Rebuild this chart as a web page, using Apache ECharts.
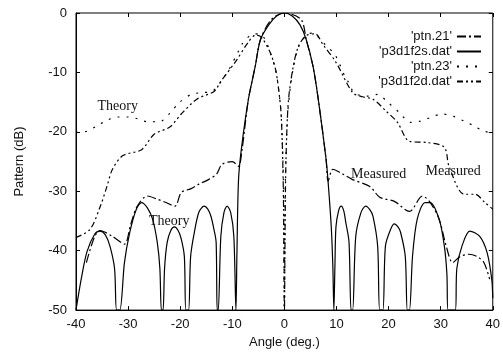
<!DOCTYPE html>
<html>
<head>
<meta charset="utf-8">
<script src="https://cdn.jsdelivr.net/npm/echarts@6/dist/echarts.min.js"></script>
<style>
  html, body { margin: 0; padding: 0; background: #fff; }
  #chart { width: 503px; height: 354px; }
</style>
</head>
<body>
<div id="chart"></div>
<script>
// 'ptn.21' - sum pattern with filled nulls (dash-dot)
var ptn21 = [
  [-38, -42], [-36.5, -37.8], [-35.4, -36.6], [-33, -37.6], [-30.7, -38.9], [-29.5, -35.6],
  [-28.3, -32.6], [-26.3, -30.8], [-24.5, -31.3], [-23, -31.8], [-21, -32.5], [-19.8, -30.2],
  [-18, -29.6], [-16.4, -28.8], [-14.5, -28], [-13, -27.1], [-12, -25.5], [-10, -25],
  [-8.8, -25.8], [-8.2, -23.5], [-6.9, -14.5], [-5.6, -9], [-4.6, -4.5], [-2.5, -1.1],
  [0, 0], [3.2, -1.1], [4.2, -4.5], [5.5, -9], [6.5, -14.5], [8, -24.6], [8.4, -28.3],
  [9.3, -26.3], [11, -27], [13, -28], [16.4, -29.2], [18.3, -31], [21.1, -31.7], [24, -33.4],
  [26.5, -30.8], [28, -31.9], [29.7, -34.7], [31, -39], [32.3, -42], [33.7, -41], [35.4, -40.6],
  [37, -41], [38.3, -42], [39.4, -44.8]
];

// 'p3d1f2s.dat' - sum pattern (solid)
var p3d1f2s = [
  [-40, -50], [-39, -44.8], [-37.9, -40.2], [-36.4, -37.2], [-35.4, -36.7], [-34.4, -37.3],
  [-33.5, -39.2], [-32.6, -43], [-32.2, -50],
  [-31.6, -50], [-30.7, -42], [-29.7, -37], [-28.4, -33], [-27.4, -31.9], [-26.3, -32.8],
  [-25.3, -34.7], [-24.4, -38.6], [-23.9, -43], [-23.6, -50],
  [-23.3, -50], [-23, -43], [-22.5, -38.6], [-21.8, -36.6], [-21.1, -36], [-20.4, -36.6],
  [-19.8, -38], [-19.2, -41], [-18.9, -50],
  [-18.4, -50], [-18, -41], [-17.3, -37], [-16.4, -33.5], [-15.4, -32.5], [-14.7, -33],
  [-14.1, -34.2], [-13.5, -36.5], [-13.1, -38.6], [-12.9, -50],
  [-12.7, -50], [-12.2, -37.6], [-11.6, -33.6], [-11, -32.5], [-10.3, -33.6], [-9.7, -37.6],
  [-9.3, -50],
  [-9.1, -40], [-8.8, -28], [-8.2, -22.5], [-6.9, -14.5], [-5.6, -9], [-4.6, -4.5], [-3, -2],
  [-1.5, -0.5], [0, 0], [1.5, -0.5], [3, -2], [4.2, -4.5], [5.5, -9], [6.5, -14.5], [8, -24.6],
  [8.4, -28.5], [9, -36], [9.3, -42.6], [9.5, -50],
  [9.7, -42.6], [9.9, -36], [10.4, -33.3], [10.9, -32.5], [11.4, -33.3], [11.8, -35.3],
  [12.4, -38.5], [12.8, -50],
  [13.1, -50], [13.7, -37.6], [14.7, -33.6], [15.6, -32.5], [16.4, -33.1], [17, -34.2],
  [17.9, -39.2], [18.3, -50],
  [18.9, -50], [19.4, -39.2], [20.4, -36.4], [21.1, -35.5], [21.8, -36], [22.3, -36.9],
  [23.2, -40.9], [23.6, -50],
  [24, -50], [24.6, -40.9], [25.5, -34.7], [27, -31.9], [28, -31.9], [29.7, -34.7],
  [30.7, -39.2], [31.2, -44], [31.4, -50],
  [32.8, -50], [33.1, -43], [34.1, -39.2], [35.6, -36.7], [37.5, -37.6], [38.9, -40.3],
  [39.8, -44.8], [40, -48]
];

// 'ptn.23' - difference pattern (dotted)
var ptn23 = [
  [-40, -20.1], [-37.9, -19.9], [-36, -19], [-33.9, -18], [-32, -17.5], [-30, -17.5],
  [-28.2, -17.8], [-26.3, -18.3], [-24, -18.3], [-22, -16.9], [-20.2, -15.1], [-17.9, -13.7],
  [-15.8, -13.4], [-13.9, -13.2], [-11, -10], [-8.8, -6.4], [-8.2, -5.3], [-6.2, -3.6],
  [-5, -3.5], [-3.8, -4.3], [-2.7, -6.7], [-1.7, -9.5], [-1.1, -12.9], [-0.6, -17.4],
  [-0.2, -28], [0, -50], [0.2, -28], [0.6, -17.4], [1.1, -12.9], [1.7, -9.3], [2.7, -5.8],
  [4.2, -3.7], [5.3, -3.4], [6.2, -3.8], [8, -5.5], [9.7, -7], [11.6, -10.6], [12.2, -11.5],
  [13.5, -13.5], [16, -14], [17.9, -13.7], [19.8, -15], [22, -16.7], [24.2, -18.4],
  [26.1, -18.2], [28, -17.6], [30.3, -17], [32.5, -17.4], [34.5, -18.2], [36.4, -19],
  [38.3, -19.9], [40, -20.1]
];

// 'p3d1f2d.dat' - difference pattern (dash-dot-dot)
var p3d1f2d = [
  [-40, -37.8], [-37.3, -36.4], [-35.4, -32.7], [-34.1, -29.3], [-33, -26.3], [-31, -24],
  [-27.4, -23], [-25, -20.4], [-22, -19.2], [-19.8, -17], [-16.8, -14.5], [-13.5, -13.2],
  [-12.2, -11.5], [-9.3, -8.1], [-7, -5], [-5.5, -3.7], [-4.4, -4.1], [-2.7, -6.7],
  [-1.7, -9.5], [-1.1, -12.9], [-0.6, -17.4], [-0.2, -30], [0, -50], [0.2, -30],
  [0.4, -21.8], [0.8, -14.5], [1.7, -9], [2.7, -5.6], [4.2, -3.8], [5.9, -3.5], [7.4, -5.3],
  [9.9, -8.3], [13.1, -13.4], [15, -14.1], [17, -14.5], [19.5, -16.5], [21.7, -18.4],
  [24, -21.6], [27.4, -21.8], [30.7, -22.6], [31.6, -25.8], [34.5, -30.5], [36.6, -30.5],
  [38.5, -31.9], [40, -33]
];

var xTicks = [-40, -30, -20, -10, 0, 10, 20, 30, 40];
var yTicks = [-50, -40, -30, -20, -10, 0];

var chart = echarts.init(document.getElementById('chart'));
var ink = '#000';
var lbl = { color: '#111', fontFamily: 'Liberation Sans', fontSize: 13 };

function lineSeries (name, data, dash) {
  return {
    name: name,
    type: 'line',
    data: data,
    symbol: 'none',
    smooth: 0.3,
    animation: false,
    lineStyle: { color: ink, width: 1.2, type: dash },
    itemStyle: { color: ink }
  };
}

var tick = { inside: true, length: 4, lineStyle: { color: ink } };

var option = {
  animation: false,
  grid: { left: 76, right: 7, top: 13, bottom: 43, show: true, borderColor: ink, borderWidth: 1 },
  legend: {
    orient: 'vertical',
    right: 16,
    top: 25,
    align: 'right',
    itemWidth: 24,
    itemHeight: 10,
    itemGap: 2,
    itemStyle: { opacity: 0 },
    textStyle: { color: '#111', fontFamily: 'Liberation Sans', fontSize: 13 },
    data: ["'ptn.21'", "'p3d1f2s.dat'", "'ptn.23'", "'p3d1f2d.dat'"]
  },
  xAxis: [{
    type: 'value', min: xTicks[0], max: xTicks[xTicks.length - 1], interval: 10,
    name: 'Angle (deg.)', nameLocation: 'middle', nameGap: 22,
    nameTextStyle: lbl,
    axisLine: { onZero: false, lineStyle: { color: ink } },
    axisTick: tick,
    axisLabel: Object.assign({ margin: 8 }, lbl),
    splitLine: { show: false }
  }, {
    type: 'value', position: 'top', min: -40, max: 40, interval: 10,
    axisLine: { show: false, onZero: false },
    axisTick: tick,
    axisLabel: { show: false }, splitLine: { show: false }
  }],
  yAxis: [{
    type: 'value', min: yTicks[0], max: yTicks[yTicks.length - 1], interval: 10,
    name: 'Pattern (dB)', nameLocation: 'middle', nameGap: 50,
    nameTextStyle: lbl,
    axisLine: { show: true, onZero: false, lineStyle: { color: ink } },
    axisTick: Object.assign({ show: true }, tick),
    axisLabel: Object.assign({ margin: 9 }, lbl),
    splitLine: { show: false }
  }, {
    type: 'value', position: 'right', min: -50, max: 0, interval: 10,
    axisLine: { show: false, onZero: false },
    axisTick: Object.assign({ show: true }, tick),
    axisLabel: { show: false }, splitLine: { show: false }
  }],
  series: [
    lineSeries("'ptn.21'", ptn21, [9, 3, 2, 3]),
    lineSeries("'p3d1f2s.dat'", p3d1f2s, 'solid'),
    lineSeries("'ptn.23'", ptn23, [2, 7]),
    lineSeries("'p3d1f2d.dat'", p3d1f2d, [6, 3, 2, 3, 2, 3])
  ]
};
chart.setOption(option);

// text notes placed at data coordinates
var notes = [
  { text: 'Theory', at: [-32, -15.7] },
  { text: 'Theory', at: [-22.1, -35] },
  { text: 'Measured', at: [18.1, -27.2] },
  { text: 'Measured', at: [32.4, -26.6] }
];
chart.setOption({
  graphic: notes.map(function (n) {
    var p = chart.convertToPixel({ gridIndex: 0 }, n.at);
    return {
      type: 'text', x: p[0], y: p[1], z: 10,
      style: {
        text: n.text, fill: '#111', font: '14px "Liberation Serif"',
        align: 'center', verticalAlign: 'middle'
      }
    };
  })
});
</script>
</body>
</html>
